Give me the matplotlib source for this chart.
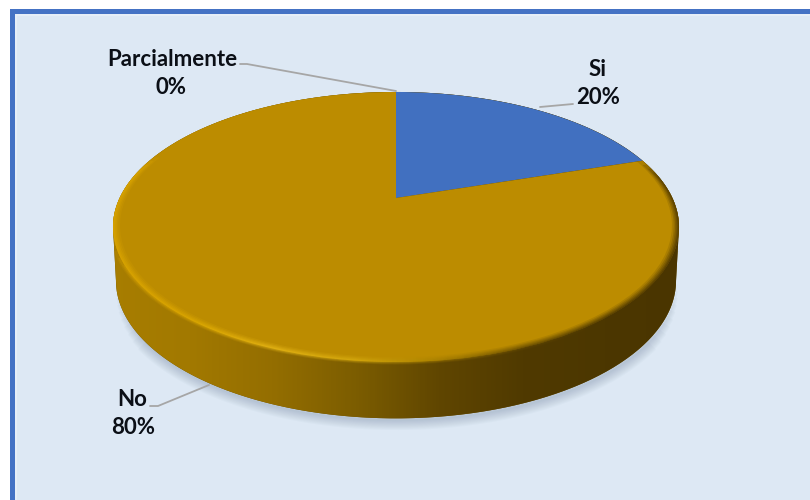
import numpy as np
import matplotlib
matplotlib.use("Agg")
import matplotlib.pyplot as plt
from matplotlib.colors import LinearSegmentedColormap
from matplotlib.patches import PathPatch, Rectangle, Wedge
from matplotlib.path import Path
from matplotlib.transforms import Transform

plt.rcParams["font.family"] = ["Lato", "DejaVu Sans"]

CATEGORIES = ["Si", "No", "Parcialmente"]
VALUES = [20, 80, 0]
PERCENT_LABELS = ["20%", "80%", "0%"]
SLICE_COLORS = ["#4170C0", "#BC8C00", "#A5A5A5"]


class Tilt(Transform):
    """Perspective view of a flat disc, unit circle -> pixels."""
    input_dims = output_dims = 2

    def __init__(self, cx=396.0, cy=198.0, a=276.4, b=128.8, k=0.2148):
        super().__init__()
        self.cx, self.cy, self.a, self.b, self.k = cx, cy, a, b, k

    def transform_non_affine(self, values):
        x, y = values[:, 0], values[:, 1]
        d = 1 + self.k * y
        return np.column_stack((self.cx + self.a * x / d, self.cy - self.b * y / d))


def unit_arc(start, stop, n=240):
    t = np.linspace(start, stop, n)
    return np.column_stack((np.cos(t), np.sin(t)))


def gradient(ax, clip, stops, zorder, alpha=1.0):
    """Horizontal gradient clipped to a path in pixel coordinates."""
    cmap = LinearSegmentedColormap.from_list("g", stops)
    img = ax.imshow(np.linspace(0, 1, 600)[None, :], cmap=cmap, extent=(105, 690, 430, 80),
                    aspect="auto", zorder=zorder, alpha=alpha)
    img.set_clip_path(PathPatch(clip, transform=ax.transData))
    return img


fig = plt.figure(figsize=(8.1, 5.0), dpi=100, facecolor="white")
ax = fig.add_axes([0, 0, 1, 1])

wedges, _ = ax.pie(VALUES, colors=SLICE_COLORS, startangle=90, counterclock=False,
                   center=(0, 0), radius=1, wedgeprops=dict(linewidth=0))

ax.set_aspect("auto")
ax.set_xlim(0, 810)
ax.set_ylim(500, 0)
ax.axis("off")

# panel
ax.add_patch(Rectangle((10, 9), 800, 491, fc="#4472C4", lw=0, zorder=0))
ax.add_patch(Rectangle((15, 14), 795, 486, fc="#E6EEF7", lw=0, zorder=0.1))
ax.add_patch(Rectangle((17, 16), 793, 484, fc="#DDE8F4", lw=0, zorder=0.2))

top = Tilt()
bottom = Tilt(cy=251.0, a=273.5, b=131.4)

# side wall: silhouette joins the widest points of face and base
widest = np.arcsin(top.k)
wall = Path(np.vstack((top.transform(unit_arc(-widest, np.pi + widest)),
                       bottom.transform(unit_arc(np.pi + widest, 2 * np.pi - widest)),
                       top.transform(unit_arc(-widest, -widest, 1)))))

# soft shadow under the disc, wider strokes stop earlier so the ends taper
for lw in np.arange(14, 0, -1.5):
    arc = unit_arc(np.pi + widest + 0.03 * lw, 2 * np.pi - widest - 0.03 * lw)
    shadow = Path(bottom.transform(arc) + [1, 2])
    ax.add_patch(PathPatch(shadow, fc="none", ec="#5A6E8C", lw=lw, alpha=0.03, zorder=0.5))

ax.add_patch(PathPatch(wall, fc="#6B5000", lw=0, zorder=1))
gradient(ax, wall, ["#A87E00", "#A27900", "#946E00", "#7C5D00", "#604600", "#503A00", "#4C3700", "#4A3500"], 1.1)

# top face from the pie slices
tilt_data = top + ax.transData
for w in wedges:
    w.set_transform(tilt_data)
    w.set_zorder(2)
    w.set_clip_on(False)

# bevel round the rim, thin stacked rings so it fades to both sides
RIM_STOPS = ["#DCA600", "#E0AB00", "#E8B818", "#D8AC10", "#A88000", "#6A4F00", "#4E3900", "#4A3500"]
for i, (width, a) in enumerate([(0.024, 0.16), (0.018, 0.22), (0.013, 0.28), (0.008, 0.36), (0.004, 0.45)]):
    ring = Wedge((0, 0), 1.0, 160 + i * 2, 378 - i * 2, width=width)
    gradient(ax, ring.get_path().transformed(top), RIM_STOPS, 3, alpha=a)

# part of the bevel that falls on the wall, lower rim only
for i, (outer, a) in enumerate([(1.012, 0.14), (1.008, 0.22), (1.004, 0.32)]):
    ring = Wedge((0, 0), outer, 202 + i * 3, 338 - i * 3, width=outer - 1.0)
    gradient(ax, ring.get_path().transformed(top), RIM_STOPS, 3, alpha=a)

# labels and leader lines
TEXT_KW = dict(ha="center", va="center", fontsize=16, fontweight="bold", color="#0B0F16", zorder=5)
ax.text(172, 59, CATEGORIES[2], **TEXT_KW)
ax.text(171, 87, PERCENT_LABELS[2], **TEXT_KW)
ax.text(598, 69, CATEGORIES[0], **TEXT_KW)
ax.text(598, 98, PERCENT_LABELS[0], **TEXT_KW)
ax.text(132, 400, CATEGORIES[1], **TEXT_KW)
ax.text(133, 428, PERCENT_LABELS[1], **TEXT_KW)

LINE_KW = dict(color="#A6A6A6", lw=1.3, zorder=4, solid_capstyle="round")
ax.plot([240, 247, 396], [64, 64, 91], **LINE_KW)
ax.plot([540, 573], [107, 104], **LINE_KW)
ax.plot([150, 158, 209], [406, 406, 385], **LINE_KW)

ax.set_xlim(0, 810)
ax.set_ylim(500, 0)
fig.savefig("out.png", dpi=100, facecolor="white")
